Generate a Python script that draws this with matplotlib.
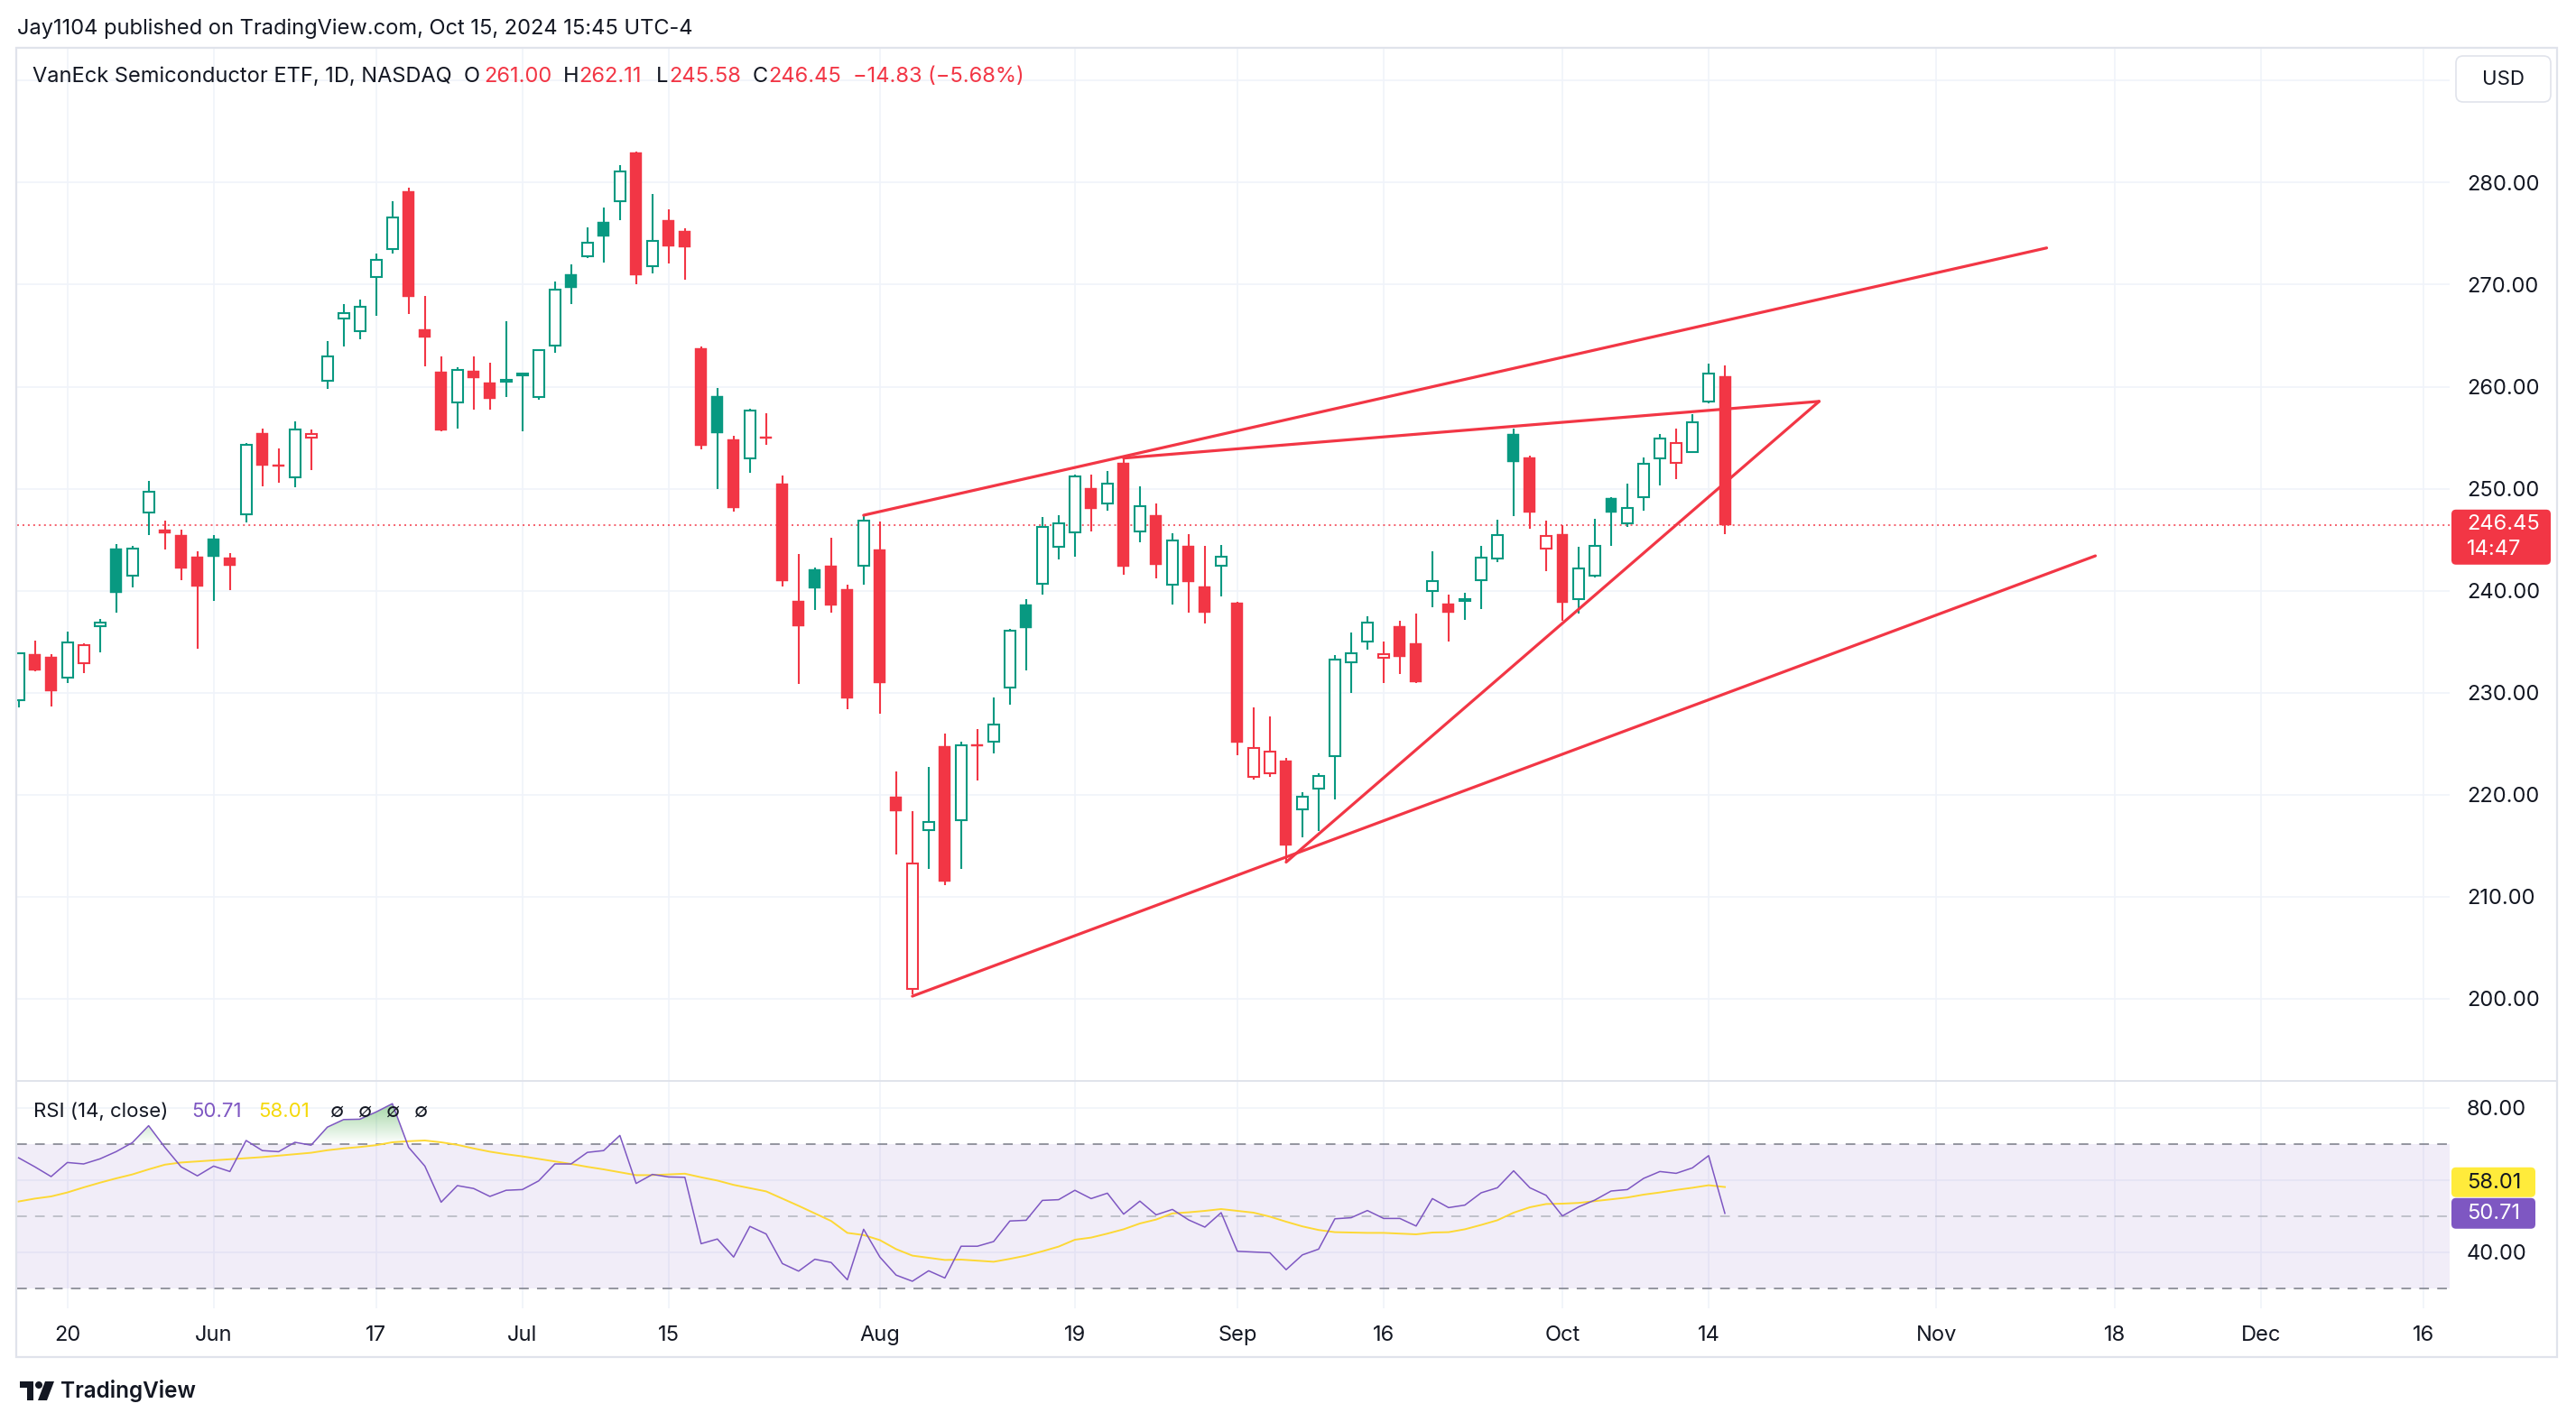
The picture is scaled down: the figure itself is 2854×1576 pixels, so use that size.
import numpy as np
import matplotlib
matplotlib.use("Agg")
import matplotlib.pyplot as plt
from matplotlib.patches import Rectangle, FancyBboxPatch, PathPatch, Polygon, Circle
from matplotlib.lines import Line2D
from matplotlib.path import Path
from matplotlib.transforms import blended_transform_factory

plt.rcParams['font.family'] = ['Inter', 'DejaVu Sans']

W, H, DPI = 2854, 1576, 100

# ---- data: daily bars, bar 0 = 2024-05-20, last bar = 2024-10-15 ----
first_bar = -3
prior_close = 228.9

opens = [
    229.24, 233.80, 233.52,
    231.44, 232.90, 236.56, 244.15, 241.51, 247.70, 246.01, 245.45, 243.31, 245.11,
    243.25, 247.47, 255.46, 252.30, 251.13, 255.01, 260.59, 266.72, 265.42, 270.71,
    273.53, 279.16, 265.60, 261.43, 258.50, 261.54, 260.36, 260.50, 261.10, 258.95,
    264.07, 271.05, 272.80, 276.17, 278.14, 282.98, 271.78, 276.34, 275.27, 263.74,
    259.12, 254.79, 252.99, 255.07, 250.51, 238.98, 242.13, 242.41, 240.16, 242.41,
    244.04, 219.84, 200.99, 216.52, 224.74, 217.54, 224.91, 225.19, 230.53, 238.64,
    240.72, 244.27, 245.73, 250.06, 248.54, 252.54, 245.84, 247.42, 240.61, 244.43,
    240.38, 242.47, 238.81, 221.76, 222.09, 223.33, 218.55, 220.63, 223.78, 232.95,
    234.98, 233.40, 236.56, 234.81, 239.99, 238.75, 239.03, 241.06, 243.20, 255.35,
    253.10, 244.15, 245.56, 239.14, 241.45, 249.11, 246.57, 249.16, 252.99, 252.54,
    253.61, 258.56, 261.00]
highs = [
    233.90, 235.15, 233.80,
    236.00, 234.87, 237.23, 244.55, 244.38, 250.80, 246.90, 246.00, 243.87, 245.45,
    243.70, 254.45, 255.86, 253.94, 256.59, 255.80, 264.47, 268.07, 268.52, 273.08,
    278.20, 279.50, 268.91, 263.00, 261.88, 263.00, 262.39, 266.38, 261.30, 263.60,
    270.32, 272.00, 275.61, 277.58, 281.74, 283.04, 278.87, 277.41, 275.55, 263.96,
    259.91, 255.18, 257.88, 257.38, 251.30, 243.59, 242.30, 245.17, 240.61, 247.47,
    246.80, 222.32, 218.43, 222.77, 226.03, 225.19, 226.48, 229.58, 236.22, 239.20,
    247.25, 247.36, 251.36, 251.41, 251.75, 252.99, 250.23, 248.54, 245.67, 245.56,
    244.43, 244.49, 238.90, 228.57, 227.72, 223.61, 220.24, 222.09, 233.69, 235.88,
    237.51, 234.98, 237.06, 237.79, 243.87, 239.65, 239.82, 244.38, 246.97, 255.86,
    253.21, 246.91, 246.46, 244.32, 247.08, 249.20, 250.51, 253.10, 255.35, 255.86,
    257.27, 262.22, 262.11]
lows = [
    228.56, 232.10, 228.68,
    230.93, 231.94, 234.00, 237.85, 240.33, 245.50, 244.04, 241.06, 234.30, 239.03,
    240.05, 246.69, 250.23, 250.57, 250.12, 251.86, 259.80, 263.96, 264.64, 266.94,
    273.02, 267.11, 261.99, 255.60, 255.86, 257.71, 257.71, 259.00, 255.63, 258.73,
    263.34, 268.13, 272.63, 272.18, 276.29, 270.04, 271.10, 272.07, 270.49, 253.83,
    249.95, 247.76, 251.58, 254.34, 240.38, 230.87, 238.13, 237.85, 228.40, 240.55,
    227.95, 214.16, 200.43, 212.75, 211.12, 212.75, 221.42, 224.06, 228.85, 232.17,
    239.60, 243.03, 243.31, 245.84, 247.87, 241.56, 244.72, 241.17, 238.69, 237.85,
    236.78, 239.43, 223.89, 221.47, 221.76, 213.37, 215.85, 216.41, 219.56, 229.97,
    234.25, 230.93, 231.88, 230.93, 238.36, 235.04, 237.12, 238.24, 242.80, 247.30,
    246.12, 241.90, 237.06, 237.74, 241.28, 244.38, 246.29, 247.87, 250.29, 250.96,
    253.50, 258.40, 245.58]
closes = [
    233.86, 232.17, 230.14,
    234.93, 234.64, 236.90, 239.76, 244.15, 249.72, 245.62, 242.18, 240.38, 243.37,
    242.47, 254.28, 252.31, 252.20, 255.80, 255.35, 262.95, 267.17, 267.79, 272.40,
    276.62, 268.80, 264.86, 255.75, 261.65, 260.87, 258.84, 260.60, 261.20, 263.57,
    269.48, 269.70, 274.09, 274.71, 281.13, 270.94, 274.32, 273.75, 273.64, 254.17,
    255.46, 248.09, 257.66, 254.96, 240.95, 236.50, 240.21, 238.53, 229.47, 246.91,
    230.93, 218.43, 213.26, 217.37, 211.46, 224.85, 224.80, 226.88, 236.11, 236.33,
    246.29, 246.63, 251.24, 247.98, 250.46, 242.35, 248.26, 242.52, 244.94, 240.83,
    237.85, 243.37, 225.13, 224.57, 224.23, 215.06, 219.84, 221.81, 233.29, 233.86,
    236.84, 233.74, 233.55, 231.04, 240.95, 237.85, 239.10, 243.25, 245.50, 252.59,
    247.70, 245.39, 238.81, 242.18, 244.38, 247.70, 248.15, 252.48, 254.96, 254.51,
    256.53, 261.28, 246.45]

rsi = [
    66.1, 63.6, 60.9,
    64.8, 64.4, 65.8, 67.8, 70.3, 75.0, 69.0, 63.6, 61.1, 63.8,
    62.3, 70.9, 68.1, 67.8, 70.4, 69.6, 74.6, 76.7, 76.8, 78.8,
    81.1, 69.0, 63.8, 53.8, 58.4, 57.6, 55.4, 57.1, 57.3, 59.7,
    64.4, 64.4, 67.6, 68.1, 72.3, 59.0, 61.5, 60.8, 60.7, 42.3,
    43.6, 38.6, 47.1, 45.0, 36.8, 34.7, 38.0, 37.1, 32.3, 46.3,
    38.6, 33.6, 31.9, 34.8, 32.8, 41.6, 41.6, 42.9, 48.6, 48.8,
    54.3, 54.5, 57.1, 54.8, 56.3, 50.5, 54.1, 50.3, 51.8, 48.9,
    46.9, 50.9, 40.2, 40.0, 39.8, 35.1, 39.2, 40.8, 49.2, 49.5,
    51.5, 49.3, 49.3, 47.2, 54.8, 52.3, 53.0, 56.4, 57.8, 62.5,
    57.8, 55.7, 50.0, 52.5, 54.4, 56.9, 57.3, 60.4, 62.3, 61.8,
    63.3, 66.7, 50.71]
rsi_ma = [
    54.0, 54.8, 55.4,
    56.5, 57.9, 59.2, 60.4, 61.5, 62.9, 64.2, 64.8, 65.1, 65.4,
    65.7, 66.0, 66.3, 66.7, 67.1, 67.5, 68.2, 68.7, 69.1, 69.6,
    70.4, 70.7, 70.9, 70.4, 69.7, 68.7, 67.8, 67.1, 66.5, 65.8,
    65.1, 64.4, 63.6, 62.9, 62.1, 61.3, 61.3, 61.5, 61.7, 60.7,
    59.8, 58.6, 57.7, 56.8, 54.8, 52.8, 50.7, 48.6, 45.3, 44.7,
    43.3, 40.8, 39.0, 38.4, 37.8, 37.9, 37.6, 37.3, 38.1, 39.0,
    40.2, 41.5, 43.4, 44.0, 45.1, 46.3, 47.9, 49.0, 50.7, 51.0,
    51.4, 51.9, 51.4, 50.9, 49.8, 48.4, 47.1, 46.1, 45.5, 45.4,
    45.3, 45.3, 45.1, 44.9, 45.4, 45.5, 46.3, 47.5, 48.8, 50.9,
    52.4, 53.3, 53.4, 53.6, 54.1, 54.6, 55.1, 55.9, 56.5, 57.2,
    57.8, 58.5, 58.01]

date_ticks = [0, 9, 19, 28, 37, 50, 62, 72, 81, 92, 101, 115, 126, 135, 145]
date_labels = ['20', 'Jun', '17', 'Jul', '15', 'Aug', '19', 'Sep', '16', 'Oct',
               '14', 'Nov', '18', 'Dec', '16']
price_ticks = [200, 210, 220, 230, 240, 250, 260, 270, 280]
rsi_ticks = [40, 60, 80]
rsi_tick_labels = ['40.00', '', '80.00']

# user-drawn trend lines, (bar, price) end points
trend_lines = [
    [(49, 247.4), (121.8, 273.6)],
    [(52, 200.26), (124.8, 243.42)],
    [(65, 253.0), (107.8, 258.56)],
    [(75, 213.4), (107.8, 258.56)],
]

GREEN = '#089981'
RED = '#F23645'
PURPLE = '#7E57C2'
YELLOW = '#FDD835'
TXT = '#131722'
GRID = '#F0F3FA'
BORDER = '#E0E3EB'
FS = 17


def to_fig(px, py):
    return px / W, 1 - py / H


def data_py(axis, v):
    return H - axis.transData.transform((0, v))[1]


fig = plt.figure(figsize=(W / DPI, H / DPI), dpi=DPI)
fig.patch.set_facecolor('white')

x_left, x_right = 19, 2714
ax = fig.add_axes([x_left / W, 1 - 1197 / H, (x_right - x_left) / W, (1197 - 53.5) / H])
ax2 = fig.add_axes([x_left / W, 1 - 1450 / H, (x_right - x_left) / W, (1450 - 1198) / H])

xs = np.arange(first_bar, first_bar + len(closes))

# ---- price pane ----
prev_close = [prior_close] + closes[:-1]
for xi, o, h, l, c, pc in zip(xs, opens, highs, lows, closes, prev_close):
    col = GREEN if c >= pc else RED
    hollow = c > o
    lo_b, hi_b = min(o, c), max(o, c)
    body = max(hi_b - lo_b, 0.16)
    ax.vlines(xi, l, h, color=col, lw=1.5, zorder=3)
    if hollow:
        ax.add_patch(Rectangle((xi - 0.34, lo_b), 0.68, body, facecolor='white',
                               edgecolor=col, lw=1.5, zorder=4))
    else:
        ax.add_patch(Rectangle((xi - 0.36, lo_b), 0.72, body, facecolor=col,
                               edgecolor=col, lw=0.3, zorder=4))

for (xa, ya), (xb, yb) in trend_lines:
    ax.plot([xa, xb], [ya, yb], color=RED, lw=2.3, solid_capstyle='round', zorder=5)

ax.axhline(closes[-1], color=RED, lw=1.1, ls=(0, (1.3, 2.6)), zorder=2)
ax.axhline(290, color=GRID, lw=1.2, zorder=0)

ax.set_xlim(-3.09, 146.6)
ax.set_ylim(192.04, 293.17)
ax.set_xticks(date_ticks)
ax.set_yticks(price_ticks)
ax.set_yticklabels([f'{t:.2f}' for t in price_ticks])
ax.yaxis.tick_right()
ax.tick_params(axis='y', length=0, pad=13.7, labelsize=FS, labelcolor=TXT)
ax.tick_params(axis='x', length=0, labelbottom=False)
ax.grid(True, color=GRID, lw=1.2)
ax.set_axisbelow(True)
for s in ax.spines.values():
    s.set_visible(False)

# ---- RSI pane ----
rsi_arr = np.array(rsi)
ax2.axhspan(30, 70, color=PURPLE, alpha=0.1, lw=0, zorder=0.6)
for lvl, c in [(70, '#787B86'), (50, '#B2B5BE'), (30, '#787B86')]:
    ax2.axhline(lvl, color=c, lw=1.1, ls=(0, (7, 6)), zorder=1)

fb = ax2.fill_between(xs, rsi_arr, 70, where=rsi_arr > 70, interpolate=True,
                      facecolor='none', edgecolor='none')
paths = fb.get_paths()
if paths:
    clip = PathPatch(Path.make_compound_path(*paths), transform=ax2.transData,
                     facecolor='none', edgecolor='none')
    ax2.add_patch(clip)
    grad = np.zeros((100, 2, 4))
    grad[..., 0:3] = (0.30, 0.69, 0.31)
    grad[..., 3] = np.linspace(0.55, 0.0, 100)[:, None]
    im = ax2.imshow(grad, extent=[xs[0], xs[-1], 70, 82], origin='upper',
                    aspect='auto', zorder=1.5, interpolation='bilinear')
    im.set_clip_path(clip)

ax2.plot(xs, rsi_ma, color=YELLOW, lw=1.4, zorder=2)
ax2.plot(xs, rsi_arr, color=PURPLE, lw=1.1, zorder=3)

ax2.set_xlim(-3.09, 146.6)
ax2.set_ylim(24.4, 87.4)
ax2.set_xticks(date_ticks)
ax2.set_yticks(rsi_ticks)
ax2.set_yticklabels(rsi_tick_labels)
ax2.yaxis.tick_right()
ax2.tick_params(axis='y', length=0, pad=13.7, labelsize=FS, labelcolor=TXT)
ax2.tick_params(axis='x', length=0, labelbottom=False)
ax2.grid(True, color=GRID, lw=1.2)
ax2.set_axisbelow(True)
for s in ax2.spines.values():
    s.set_visible(False)

# date labels
tr = blended_transform_factory(ax2.transData, fig.transFigure)
for t, lab in zip(date_ticks, date_labels):
    fig.text(t, 1 - 1480 / H, lab, transform=tr, ha='center', va='center',
             fontsize=FS, color=TXT)

# ---- frame ----
fig.add_artist(Rectangle(to_fig(18, 1504), (2833 - 18) / W, (1504 - 53) / H,
                         transform=fig.transFigure, facecolor='none',
                         edgecolor=BORDER, lw=1.6))
fig.add_artist(Line2D([18 / W, 2833 / W], [1 - 1197.5 / H] * 2, color=BORDER, lw=1.4))

# ---- header texts ----
fig.text(*to_fig(19, 32), 'Jay1104 published on TradingView.com, Oct 15, 2024 15:45 UTC-4',
         fontsize=FS, color=TXT, va='center')
chg = closes[-1] - closes[-2]
pct = chg / closes[-2] * 100
header = [
    (36, 'VanEck Semiconductor ETF, 1D, NASDAQ', TXT),
    (514, 'O', TXT), (536, f'{opens[-1]:.2f}', RED),
    (624, 'H', TXT), (641, f'{highs[-1]:.2f}', RED),
    (727, 'L', TXT), (741, f'{lows[-1]:.2f}', RED),
    (834, 'C', TXT), (851, f'{closes[-1]:.2f}', RED),
    (945, f'{chg:.2f} ({pct:.2f}%)'.replace('-', '\u2212'), RED),
]
for px, s, c in header:
    fig.text(*to_fig(px, 85), s, fontsize=FS, color=c, va='center')

legend = [
    (37, 'RSI (14, close)', TXT), (212, f'{rsi[-1]:.2f}', PURPLE),
    (286, f'{rsi_ma[-1]:.2f}', '#F5D90A'),
    (366, '\u2205', TXT), (397, '\u2205', TXT), (428, '\u2205', TXT), (459, '\u2205', TXT),
]
for px, s, c in legend:
    fig.text(*to_fig(px, 1232), s, fontsize=FS - 1, color=c, va='center')

# ---- axis tags ----
def tag(x0, x1, top, h, color, r=5):
    fig.add_artist(FancyBboxPatch((x0, H - top - h), x1 - x0, h,
                                  boxstyle=f'round,pad=0,rounding_size={r}',
                                  transform=None, facecolor=color, edgecolor='none'))

fig.add_artist(FancyBboxPatch((2721, H - 113), 105, 51, boxstyle='round,pad=0,rounding_size=8',
                              transform=None, facecolor='white', edgecolor=BORDER, lw=1.2))
fig.text(*to_fig(2773, 88), 'USD', fontsize=FS - 1, color=TXT, ha='center', va='center')

yp = data_py(ax, closes[-1])
tag(2716, 2826, yp - 17, 61, RED)
fig.text(*to_fig(2733, yp - 1), f'{closes[-1]:.2f}', fontsize=FS, color='white', va='center')
fig.text(*to_fig(2733, yp + 27), '14:47', fontsize=FS, color='white', va='center')

yr = data_py(ax2, rsi[-1])
tag(2716, 2809, yr - 17, 34, PURPLE)
fig.text(*to_fig(2733, yr), f'{rsi[-1]:.2f}', fontsize=FS, color='white', va='center')
tag(2716, 2809, yr - 51, 33, '#FFEB3B')
fig.text(*to_fig(2733, yr - 34), f'{rsi_ma[-1]:.2f}', fontsize=FS, color=TXT, va='center')

# ---- TradingView logo ----
logo = '#131722'
fig.add_artist(Polygon([(22, H - 1531), (37, H - 1531), (37, H - 1552), (30, H - 1552),
                        (30, H - 1538), (22, H - 1538)], closed=True, transform=None,
                       facecolor=logo, edgecolor='none'))
fig.add_artist(Circle((43, H - 1535), 4, transform=None, facecolor=logo, edgecolor='none'))
fig.add_artist(Polygon([(50, H - 1531), (60, H - 1531), (52, H - 1552), (42, H - 1552)],
                       closed=True, transform=None, facecolor=logo, edgecolor='none'))
fig.text(*to_fig(67, 1542), 'TradingView', fontsize=17.5, color=logo, va='center',
         fontweight='semibold')

fig.savefig('out.png', dpi=DPI, facecolor='white')
